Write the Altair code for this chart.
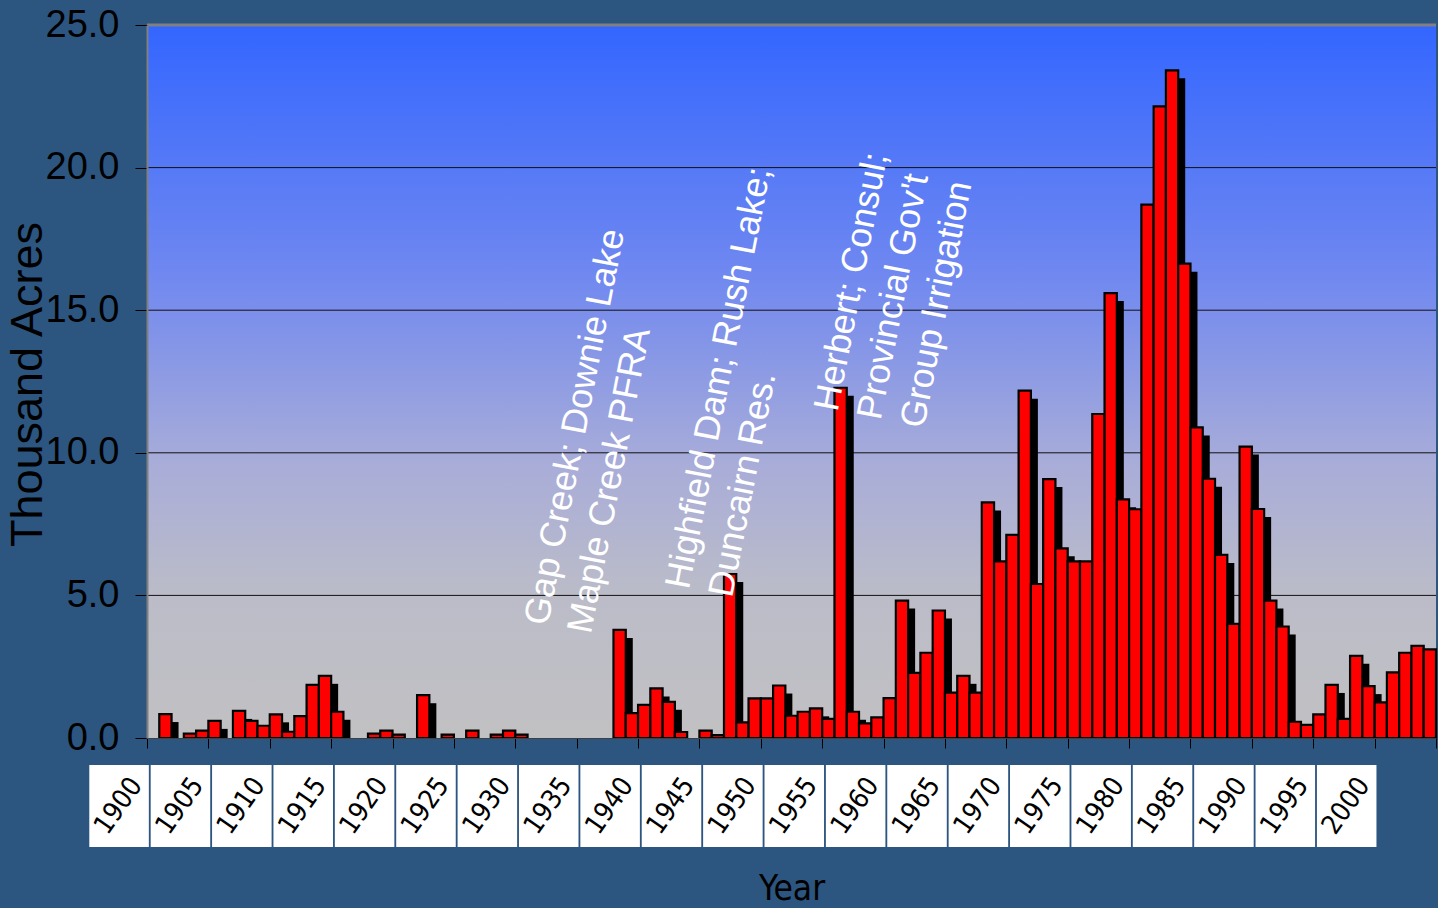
import altair as alt
import pandas as pd

# ---- data ----
years = list(range(1900, 2005))
acres = [
    0, 0.84, 0, 0.15, 0.26, 0.6, 0, 0.95, 0.6, 0.43,          # 1900-1909
    0.83, 0.22, 0.77, 1.86, 2.18, 0.92, 0, 0, 0.15, 0.26,     # 1910-1919
    0.12, 0, 1.5, 0, 0.12, 0, 0.26, 0, 0.12, 0.26,            # 1920-1929
    0.12, 0, 0, 0, 0, 0, 0, 0, 3.79, 0.87,                    # 1930-1939
    1.16, 1.74, 1.27, 0.21, 0, 0.26, 0.1, 5.75, 0.55, 1.39,   # 1940-1949
    1.39, 1.84, 0.78, 0.92, 1.04, 0.67, 12.28, 0.92, 0.51, 0.72,  # 1950-1959
    1.4, 4.82, 2.28, 2.99, 4.47, 1.59, 2.18, 1.59, 8.26, 6.19,    # 1960-1969
    7.12, 12.18, 5.4, 9.08, 6.65, 6.19, 6.19, 11.36, 15.6, 8.37,  # 1970-1979
    8.02, 18.7, 22.15, 23.41, 16.63, 10.89, 9.09, 6.42, 4.0, 10.22,  # 1980-1989
    8.03, 4.82, 3.91, 0.57, 0.46, 0.83, 1.86, 0.67, 2.88, 1.82,   # 1990-1999
    1.25, 2.3, 2.99, 3.23, 3.11,                                  # 2000-2004
]

tick_years = list(range(1900, 2006, 5))
label_years = list(range(1900, 2001, 5))
y_ticks = [0, 5, 10, 15, 20, 25]
grid_levels = [5, 10, 15, 20]
top_level = [25]

annot_year = [1930.4, 1941.9, 1954.0]
annot_value = [4.1, 5.37, 11.6]
annot_text = [
    "Gap Creek; Downie Lake\nMaple Creek PFRA",
    "Highfield Dam; Rush Lake;\nDuncairn Res.",
    "Herbert; Consul;\nProvincial Gov't\nGroup Irrigation",
]

# ---- tables ----
bars = pd.DataFrame({"year": years, "acres": acres})
bars["year_end"] = bars["year"] + 1
bars["zero"] = 0

labels = pd.DataFrame({"year": label_years})
labels["bx2"] = labels["year"] + 0.15
labels["bx"] = labels["year"] - 4.7
labels["tx"] = labels["year"] - 2.3
labels["txt"] = labels["year"].astype(str)

annots = pd.DataFrame({"year": annot_year, "acres": annot_value, "t": annot_text})
grid = pd.DataFrame({"acres": grid_levels})
top = pd.DataFrame({"acres": top_level})

NARROW = "Liberation Sans Narrow, Arial Narrow, DejaVu Sans Condensed, sans-serif"
SANS = "Liberation Sans, Arial, sans-serif"

W, H = 1289, 713
xs = alt.Scale(domain=[1900, 2005], nice=False, zero=False)
ys = alt.Scale(domain=[0, 25], nice=False, zero=False)

xaxis = alt.Axis(
    values=tick_years, labels=False, tickSize=10, tickColor="black",
    domainColor="#404040", domainWidth=1, grid=False,
    title="Year", titleFont=NARROW, titleFontSize=35,
    titleFontWeight="normal", titleColor="black",
    titleY=150, titleBaseline="middle", zindex=1,
)
yaxis = alt.Axis(
    values=y_ticks, format=".1f", labelFont=SANS, labelFontSize=38,
    labelColor="black", tickColor="black", tickSize=12, labelPadding=16,
    labelFlush=False, labelOverlap=False,
    domainColor="#808080", domainWidth=2, grid=False,
    title="Thousand Acres", titleFont=SANS, titleFontSize=45,
    titleFontWeight="normal", titleColor="black", titleAngle=270,
    titleX=-120, titleY=359, titleAlign="center", titleBaseline="middle",
    zindex=1,
)


def X(field):
    return alt.X(field, scale=xs, axis=xaxis, title="Year")


def Y(field):
    return alt.Y(field, scale=ys, axis=yaxis, title="Thousand Acres")


bg = alt.Chart(pd.DataFrame({"k": [0]})).mark_rect(
    fill=alt.LinearGradient(
        gradient="linear",
        stops=[
            alt.GradientStop(color="#3366ff", offset=0),
            alt.GradientStop(color="#7088f0", offset=0.35),
            alt.GradientStop(color="#a9add8", offset=0.62),
            alt.GradientStop(color="#bbbcc8", offset=0.8),
            alt.GradientStop(color="#c1c1c3", offset=1),
        ],
        x1=0, x2=0, y1=0, y2=1,
    )
).encode(x=alt.value(0), x2=alt.value("width"), y=alt.value(0), y2=alt.value("height"))

grid_layer = alt.Chart(grid).mark_rule(color="#111111", strokeWidth=1).encode(
    y=Y("acres:Q")
)

shadow = alt.Chart(bars).transform_filter("datum.acres > 0").mark_bar(
    color="black", xOffset=7, x2Offset=7, yOffset=8, y2Offset=8, clip=True
).encode(
    x=X("year:Q"),
    x2="year_end:Q",
    y=Y("acres:Q"),
    y2="zero:Q",
)

faces = alt.Chart(bars).transform_filter("datum.acres > 0").mark_bar(
    color="#ff0000", stroke="black", strokeWidth=2.2
).encode(
    x=X("year:Q"),
    x2="year_end:Q",
    y=Y("acres:Q"),
    y2="zero:Q",
)

top_layer = alt.Chart(top).mark_rule(color="#808080", strokeWidth=3).encode(
    y=Y("acres:Q")
)

annot_layer = alt.Chart(annots).mark_text(
    angle=281, align="left", baseline="top", color="white",
    font=SANS, fontSize=36, lineHeight=44, lineBreak="\n",
).encode(
    x=X("year:Q"),
    y=Y("acres:Q"),
    text="t:N",
)

boxes = alt.Chart(labels).mark_rect(fill="white", clip=False).encode(
    x=X("bx:Q"),
    x2="bx2:Q",
    y=alt.value(H + 27),
    y2=alt.value(H + 109),
)

box_text = alt.Chart(labels).mark_text(
    angle=305, align="center", baseline="middle", color="black",
    font=NARROW, fontSize=27,
).encode(
    x=X("tx:Q"),
    y=alt.value(H + 68),
    text="txt:N",
)

chart = alt.layer(
    bg, grid_layer, shadow, faces, top_layer, annot_layer, boxes, box_text
).properties(
    width=W, height=H,
    padding={"left": 147, "top": 25, "right": 2, "bottom": 170},
    autosize=alt.AutoSizeParams(type="none"),
    background="#2c5680",
).configure_view(stroke=None)

chart.save("out.html", embed_options={"renderer": "svg", "actions": False})
